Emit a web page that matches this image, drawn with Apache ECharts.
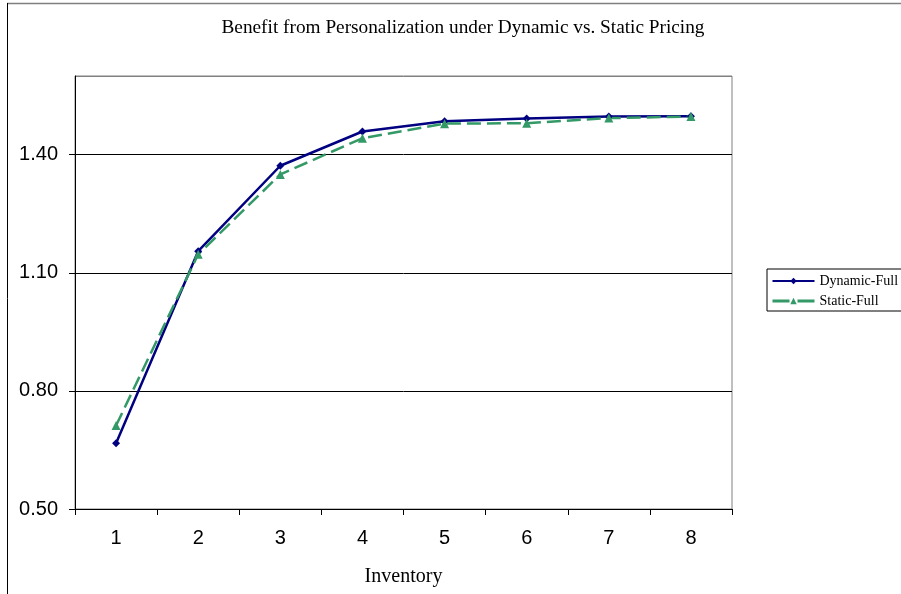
<!DOCTYPE html>
<html>
<head>
<meta charset="utf-8">
<script src="https://cdn.jsdelivr.net/npm/echarts@6/dist/echarts.min.js"></script>
<style>html,body{margin:0;padding:0;background:#fff;}#c{width:901px;height:594px;}</style>
</head>
<body>
<div id="c"></div>
<script>
const categories = ['1','2','3','4','5','6','7','8'];
const dynamicFull = [0.667, 1.155, 1.372, 1.459, 1.485, 1.492, 1.497, 1.498];
const staticFull = [0.712, 1.147, 1.350, 1.442, 1.479, 1.480, 1.493, 1.497];
const yMin = 0.5, yMax = 1.6, yInterval = 0.3;

const chart = echarts.init(document.getElementById('c'), null, {renderer: 'canvas'});
const serif = '"Liberation Serif", "Times New Roman", serif';
const sans = '"Liberation Sans", Arial, sans-serif';
chart.setOption({
  animation: false,
  backgroundColor: '#fff',
  title: {
    text: 'Benefit from Personalization under Dynamic vs. Static Pricing',
    left: 458, top: 13, textAlign: 'center',
    textStyle: {fontFamily: serif, fontSize: 19.3, fontWeight: 'normal', color: '#000'}
  },
  graphic: [
    {type: 'line', shape: {x1: 7, y1: 3.5, x2: 901, y2: 3.5}, style: {stroke: '#808080', lineWidth: 1.5}},
    {type: 'line', shape: {x1: 7.5, y1: 3, x2: 7.5, y2: 594}, style: {stroke: '#000', lineWidth: 1}}
  ],
  legend: {
    orient: 'vertical', left: 767, top: 269,
    borderColor: '#000', borderWidth: 1, padding: [5, 10, 3, 4],
    itemWidth: 42, itemHeight: 8, itemGap: 6,
    textStyle: {fontFamily: serif, fontSize: 14, color: '#000'},
    data: [
      {name: 'Dynamic-Full'},
      {name: 'Static-Full', lineStyle: {type: [17, 8], width: 3}}
    ]
  },
  grid: {left: 75, right: 169, top: 76, bottom: 85, show: true, borderColor: '#808080', borderWidth: 1},
  xAxis: {
    type: 'category', data: categories, boundaryGap: true,
    name: 'Inventory', nameLocation: 'middle', nameGap: 58,
    nameTextStyle: {fontFamily: serif, fontSize: 20, color: '#000'},
    axisLine: {lineStyle: {color: '#000', width: 1}},
    axisTick: {show: true, length: 6, lineStyle: {color: '#000'}},
    axisLabel: {fontFamily: sans, fontSize: 20, color: '#000', margin: 19}
  },
  yAxis: {
    type: 'value', min: yMin, max: yMax, interval: yInterval,
    axisLine: {show: true, lineStyle: {color: '#000', width: 1}},
    axisTick: {show: true, length: 6, lineStyle: {color: '#000'}},
    axisLabel: {fontFamily: sans, fontSize: 20, color: '#000', margin: 17, showMaxLabel: false,
      formatter: v => (Math.abs(v - yMax) < 1e-9 ? '' : v.toFixed(2))},
    splitLine: {show: true, lineStyle: {color: ['#000', '#000', '#000', '#000', '#808080'], width: 1}}
  },
  series: [
    {
      name: 'Dynamic-Full', type: 'line', data: dynamicFull,
      symbol: 'diamond', symbolSize: 8,
      lineStyle: {color: '#000080', width: 2.5},
      itemStyle: {color: '#000080'}
    },
    {
      name: 'Static-Full', type: 'line', data: staticFull,
      symbol: 'triangle', symbolSize: 9,
      lineStyle: {color: '#339966', width: 2.5, type: [14, 6]},
      itemStyle: {color: '#339966'}
    }
  ]
});
</script>
</body>
</html>
